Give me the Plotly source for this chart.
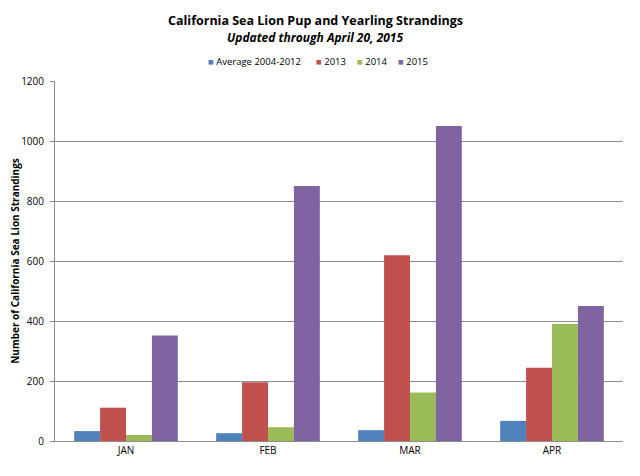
import plotly.graph_objects as go

months = ["JAN", "FEB", "MAR", "APR"]
avg_2004_2012 = [33, 26, 36, 67]
y2013 = [111, 196, 619, 244]
y2014 = [20, 46, 162, 390]
y2015 = [352, 850, 1050, 450]

series = [
    ("Average 2004-2012", avg_2004_2012, "#4F81BD"),
    ("2013", y2013, "#C0504D"),
    ("2014", y2014, "#9BBB59"),
    ("2015", y2015, "#8064A2"),
]

FONT = "Open Sans, Liberation Sans, sans-serif"

fig = go.Figure()
for name, vals, color in series:
    fig.add_trace(go.Bar(
        name=name,
        x=months,
        y=vals,
        marker=dict(color=color, line=dict(width=0)),
    ))

# The page body has an 8px margin, so the figure is drawn 8px smaller
# than the window. Plot area: x 47..615, y 73..433 in figure px.
W, H = 632, 468
L, T, R, B = 47, 73, 17, 35
plot_w = W - L - R
plot_h = H - T - B
center_x = (307 - L) / plot_w

annotations = [
    dict(
        text="<b>California Sea Lion Pup and Yearling Strandings</b>",
        x=center_x, xref="paper", xanchor="center",
        y=1 + (T - 13) / plot_h, yref="paper", yanchor="middle",
        showarrow=False,
        font=dict(size=12.5, family=FONT),
    ),
    dict(
        text="<b><i>Updated through April 20, 2015</i></b>",
        x=center_x, xref="paper", xanchor="center",
        y=1 + (T - 29.5) / plot_h, yref="paper", yanchor="middle",
        showarrow=False,
        font=dict(size=12, family=FONT),
    ),
]

# compact Excel-style legend: one text per series, left edges in figure px
legend_left = [198, 306, 347, 388]
for (name, _, color), left in zip(series, legend_left):
    annotations.append(dict(
        text=f'<span style="color:{color}">■</span> {name}',
        x=(left - L) / plot_w, xref="paper", xanchor="left",
        y=1 + (T - 54) / plot_h, yref="paper", yanchor="middle",
        showarrow=False,
        font=dict(size=9.5, family=FONT),
    ))

fig.update_layout(
    width=W,
    height=H,
    paper_bgcolor="white",
    plot_bgcolor="white",
    barmode="group",
    bargap=0.27,
    bargroupgap=0,
    showlegend=False,
    margin=dict(l=L, r=R, t=T, b=B, autoexpand=False),
    font=dict(family=FONT, size=10, color="#000000"),
    annotations=annotations,
)

fig.update_yaxes(
    range=[0, 1200],
    dtick=200,
    showgrid=True,
    gridcolor="#8C8C8C",
    gridwidth=1,
    zeroline=False,
    showline=True,
    linecolor="#8C8C8C",
    ticks="outside",
    ticklen=4,
    tickcolor="#8C8C8C",
    ticklabelstandoff=4,
    title=dict(text="<b>Number of California Sea Lion Strandings</b>", font=dict(size=10), standoff=2),
)
fig.update_xaxes(
    showline=True,
    linecolor="#8C8C8C",
    ticks="",
    showgrid=False,
)

fig.write_html("out.html")
